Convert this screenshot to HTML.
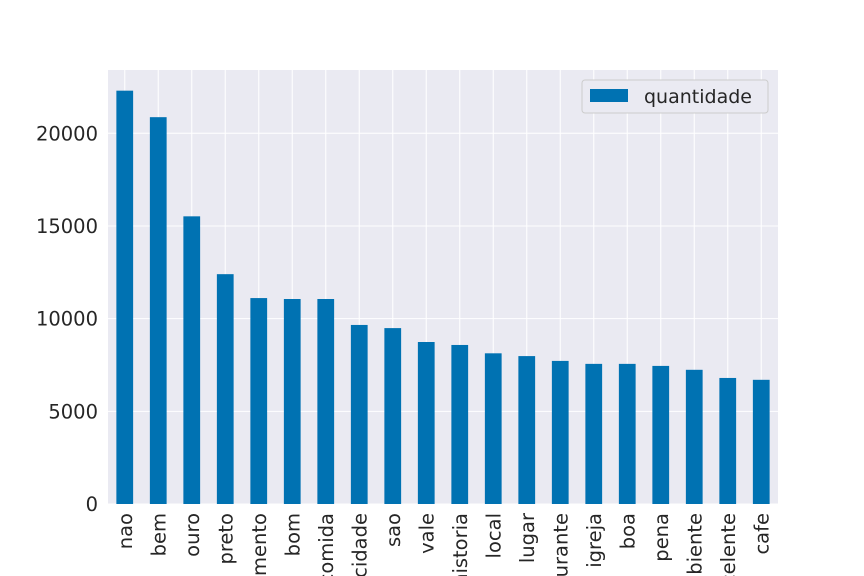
<!DOCTYPE html>
<html><head><meta charset="utf-8"><style>
html,body{margin:0;padding:0;background:#fff;overflow:hidden;width:864px;height:576px}
svg{display:block;overflow:hidden}
text{font-family:"DejaVu Sans","Liberation Sans",sans-serif;fill:#262626}
</style></head><body>
<svg id="chart" width="864" height="576" xmlns="http://www.w3.org/2000/svg">
<defs><clipPath id="frame"><rect x="0" y="0" width="864" height="576"/></clipPath></defs>
<rect x="108" y="70" width="670" height="434" fill="#eaeaf2"/>
<g id="grid"></g><g id="bars"></g><g id="yticks"></g><g id="xticks" clip-path="url(#frame)"></g>
<g>
<rect x="582" y="80" width="186" height="33" rx="3" fill="#eaeaf2" stroke="#ccc" stroke-width="1"/>
<rect x="590" y="89" width="38" height="13" fill="#0072b2"/>
<text x="644" y="103" font-size="19">quantidade</text>
</g>
</svg>
<script>
const categories=["nao","bem","ouro","preto","atendimento","bom","comida","cidade","sao","vale","historia","local","lugar","restaurante","igreja","boa","pena","ambiente","excelente","cafe"];
const values=[22300,20870,15520,12400,11110,11060,11060,9660,9490,8740,8580,8130,7980,7720,7560,7560,7450,7240,6800,6700];
const yTicks=[0,5000,10000,15000,20000];
const NS="http://www.w3.org/2000/svg";
const L=108,R=778,T=70,B=504,yMax=Math.max(...values)*1.05;
const y=v=>B-(v/yMax)*(B-T);
const band=(R-L)/categories.length;
const x=i=>L+band*(i+0.5);
function mk(tag,attrs,parent,txt){const e=document.createElementNS(NS,tag);for(const k in attrs)e.setAttribute(k,attrs[k]);if(txt!==undefined)e.textContent=txt;document.getElementById(parent).appendChild(e);return e;}
yTicks.forEach(t=>{
 const g=mk("line",{x1:L,x2:R,y1:y(t),y2:y(t),stroke:"#fff","stroke-width":1},"grid");
 
 
 const lb=mk("text",{x:L-10,y:y(t)+7,"text-anchor":"end","font-size":"19.5"},"yticks",String(t));
 
 
});
categories.forEach((c,i)=>{
 const gl=mk("line",{x1:x(i),x2:x(i),y1:T,y2:B,stroke:"#fff","stroke-width":1},"grid");
 
 
});
const bw=band*0.5;
values.forEach((v,i)=>{
 const r=mk("rect",{x:x(i)-bw/2,y:y(v),width:bw,height:B-y(v),fill:"#0072b2"},"bars");
 
 
 const t=mk("text",{x:0,y:0,"text-anchor":"end","font-size":"19.5",transform:`translate(${x(i)+7},${B+9}) rotate(-90)`},"xticks",categories[i]);
 
 
});
</script>
</body></html>
